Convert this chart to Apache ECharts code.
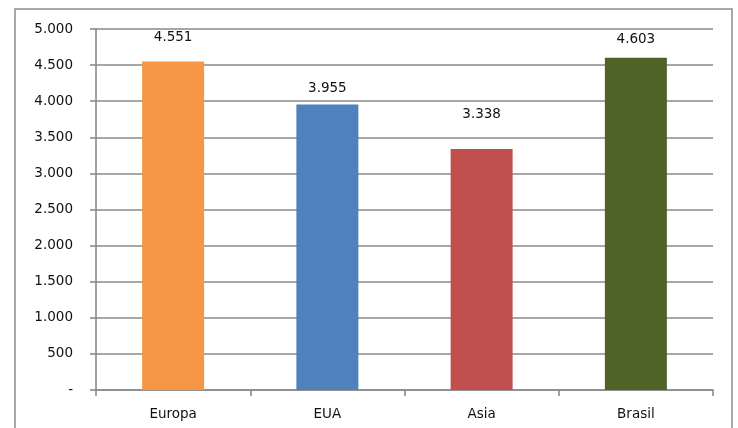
<!DOCTYPE html>
<html>
<head>
<meta charset="utf-8">
<script src="https://cdn.jsdelivr.net/npm/echarts@6/dist/echarts.min.js"></script>
<style>html,body{margin:0;padding:0;background:#fff}#c{width:738px;height:428px}</style>
</head>
<body>
<div id="c"></div>
<script>
const categories = ['Europa', 'EUA', 'Asia', 'Brasil'];
const values = [4551, 3955, 3338, 4603];
const colors = ['#F79646', '#4F81BD', '#C0504D', '#4F6228'];
const labelDistances = [17, 9, 27, 11];
const yTicks = [0, 500, 1000, 1500, 2000, 2500, 3000, 3500, 4000, 4500, 5000];

function fmt(v) {
  if (v === 0) return '-';
  return String(v).replace(/\B(?=(\d{3})+(?!\d))/g, '.');
}

const chart = echarts.init(document.getElementById('c'), null, {renderer: 'canvas'});
const font = 'DejaVu Sans';
chart.setOption({
  animation: false,
  graphic: [{
    type: 'rect',
    shape: {x: 15, y: 9, width: 717, height: 430},
    style: {fill: 'none', stroke: '#8c8c8c', lineWidth: 1.5},
    silent: true
  }],
  grid: {left: 96, right: 25, top: 29, bottom: 38},
  xAxis: {
    type: 'category',
    data: categories,
    axisLine: {lineStyle: {color: '#8a8a8a', width: 1.6}},
    axisTick: {show: true, length: 6, lineStyle: {color: '#8a8a8a', width: 1.6}},
    axisLabel: {color: '#111', fontFamily: font, fontSize: 13.5, margin: 17}
  },
  yAxis: {
    type: 'value',
    min: 0, max: 5000, interval: 500,
    axisLine: {show: true, lineStyle: {color: '#8a8a8a', width: 1.6}},
    axisTick: {show: true, length: 6, lineStyle: {color: '#8a8a8a', width: 1.6}},
    splitLine: {lineStyle: {color: '#8a8a8a', width: 1.6}},
    axisLabel: {color: '#111', fontFamily: font, fontSize: 13.5, margin: 23, formatter: v => fmt(v)}
  },
  series: [{
    type: 'bar',
    barWidth: 62,
    data: values.map((v, i) => ({
      value: v,
      itemStyle: {color: colors[i]},
      label: {show: true, position: 'top', distance: labelDistances[i]}
    })),
    label: {color: '#111', fontFamily: font, fontSize: 13.5, formatter: p => fmt(p.value)}
  }]
});
</script>
</body>
</html>
